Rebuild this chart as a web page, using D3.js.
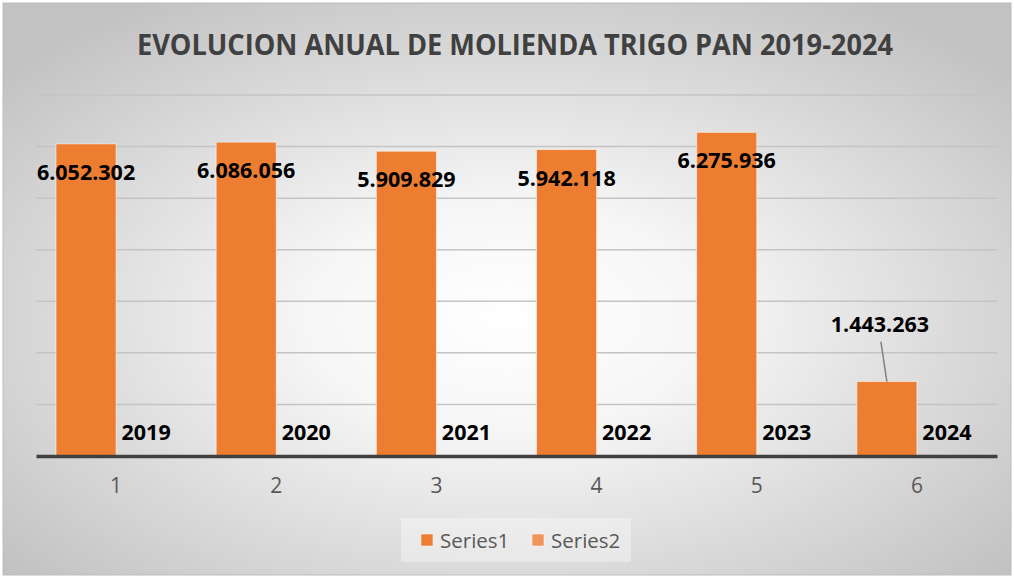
<!DOCTYPE html>
<html lang="es">
<head>
  <meta charset="UTF-8">
  <title>Evolucion anual de molienda trigo pan</title>
  <script src="https://d3js.org/d3.v7.min.js"></script>
  <style>
    body { margin: 0; background: #fff; }
    svg { display: block; font-family: "Open Sans", sans-serif; }
  </style>
</head>
<body>
  <div id="chart"></div>
  <script>
    // data
    const categories = ["1", "2", "3", "4", "5", "6"];
    const series1 = [6052302, 6086056, 5909829, 5942118, 6275936, 1443263];
    const series2 = [2019, 2020, 2021, 2022, 2023, 2024];
    const seriesNames = ["Series1", "Series2"];
    const yTicks = [0, 1000000, 2000000, 3000000, 4000000, 5000000, 6000000, 7000000];

    const W = 1014, H = 577;
    const plot = { left: 36, right: 997, top: 95, bottom: 456 };
    const colors = ["#ED7D31", "#F0945C"];
    const fmt = v => d3.format(",")(v).replace(/,/g, ".");

    const svg = d3.select("#chart").append("svg")
      .attr("width", W).attr("height", H);

    // background
    const defs = svg.append("defs");
    const grad = defs.append("radialGradient")
      .attr("id", "bg").attr("cx", "50%").attr("cy", "55%").attr("r", "66%");
    grad.append("stop").attr("offset", "0%").attr("stop-color", "#ffffff");
    grad.append("stop").attr("offset", "30%").attr("stop-color", "#f6f6f6");
    grad.append("stop").attr("offset", "100%").attr("stop-color", "#c2c2c2");

    svg.append("rect")
      .attr("x", 3).attr("y", 3).attr("width", W - 6).attr("height", H - 5)
      .attr("fill", "url(#bg)")
      .attr("stroke", "#bdbdbd").attr("stroke-width", 1);

    // scales
    const x0 = d3.scaleBand().domain(categories).range([plot.left, plot.right]);
    const x1 = d3.scaleBand().domain(seriesNames)
      .range([20, x0.bandwidth() - 20]);
    const y = d3.scaleLinear().domain([0, 7000000]).range([plot.bottom, plot.top]);

    // gridlines
    svg.append("g")
      .selectAll("line")
      .data(yTicks.slice(1))
      .enter().append("line")
      .attr("x1", plot.left).attr("x2", plot.right)
      .attr("y1", d => y(d)).attr("y2", d => y(d))
      .attr("stroke", "#c4c4c4").attr("stroke-width", 1.5);

    // bars
    const rows = categories.map((c, i) => ({ cat: c, vals: [series1[i], series2[i]] }));
    const groups = svg.append("g").selectAll("g")
      .data(rows).enter().append("g")
      .attr("transform", d => `translate(${x0(d.cat)},0)`);

    groups.selectAll("rect")
      .data(d => d.vals.map((v, k) => ({ v, s: seriesNames[k], k })))
      .enter().append("rect")
      .attr("x", d => x1(d.s))
      .attr("width", x1.bandwidth())
      .attr("y", d => y(d.v))
      .attr("height", d => y(0) - y(d.v))
      .attr("fill", d => colors[d.k])
      .attr("stroke", "rgba(255,255,255,0.55)")
      .attr("stroke-width", 1);

    // x axis
    const xAxis = svg.append("g")
      .attr("transform", `translate(0,${plot.bottom})`)
      .call(d3.axisBottom(x0).tickSize(0).tickPadding(22));
    xAxis.select(".domain").attr("stroke", "#404040").attr("stroke-width", 3.5);
    xAxis.selectAll("text")
      .attr("font-family", "Open Sans, sans-serif")
      .attr("font-size", 21).attr("fill", "#595959");

    // Series1 labels
    const last = series1.length - 1;
    svg.append("g").selectAll("text")
      .data(series1).enter().append("text")
      .attr("x", (d, i) => x0(categories[i]) + x1("Series1") + x1.bandwidth() / 2 + (i === last ? -7 : 0))
      .attr("y", (d, i) => i === last ? y(d) - 50 : y(d) + 36)
      .attr("text-anchor", "middle")
      .attr("font-size", 21.5).attr("font-weight", "bold").attr("fill", "#000")
      .text(d => fmt(d));

    // leader line for the last label
    svg.append("line")
      .attr("x1", x0(categories[last]) + x1("Series1") + x1.bandwidth() / 2 - 6)
      .attr("y1", y(series1[last]) - 40)
      .attr("x2", x0(categories[last]) + x1("Series1") + x1.bandwidth() / 2)
      .attr("y2", y(series1[last]))
      .attr("stroke", "#808080").attr("stroke-width", 1.5);

    // Series2 labels
    svg.append("g").selectAll("text")
      .data(series2).enter().append("text")
      .attr("x", (d, i) => x0(categories[i]) + x1("Series2") + x1.bandwidth() / 2)
      .attr("y", d => y(d) - 16)
      .attr("text-anchor", "middle")
      .attr("font-size", 21.5).attr("font-weight", "bold").attr("fill", "#000")
      .text(d => d);

    // title
    svg.append("text")
      .attr("x", 515).attr("y", 55)
      .attr("text-anchor", "middle")
      .attr("font-size", 29).attr("font-weight", "bold").attr("fill", "#404040")
      .attr("textLength", 756).attr("lengthAdjust", "spacingAndGlyphs")
      .text("EVOLUCION ANUAL DE MOLIENDA TRIGO PAN 2019-2024");

    // legend
    svg.append("rect")
      .attr("x", 401).attr("y", 518).attr("width", 230).attr("height", 44)
      .attr("fill", "#ffffff").attr("opacity", 0.35);

    const legend = svg.append("g").selectAll("g")
      .data(seriesNames).enter().append("g")
      .attr("transform", (d, i) => `translate(${421 + i * 111},534)`);
    legend.append("rect")
      .attr("width", 12).attr("height", 12)
      .attr("fill", (d, i) => colors[i])
      .attr("stroke", "rgba(255,255,255,0.5)");
    legend.append("text")
      .attr("x", 19).attr("y", 13.5)
      .attr("font-size", 20.5).attr("fill", "#595959")
      .text(d => d);
  </script>
</body>
</html>
